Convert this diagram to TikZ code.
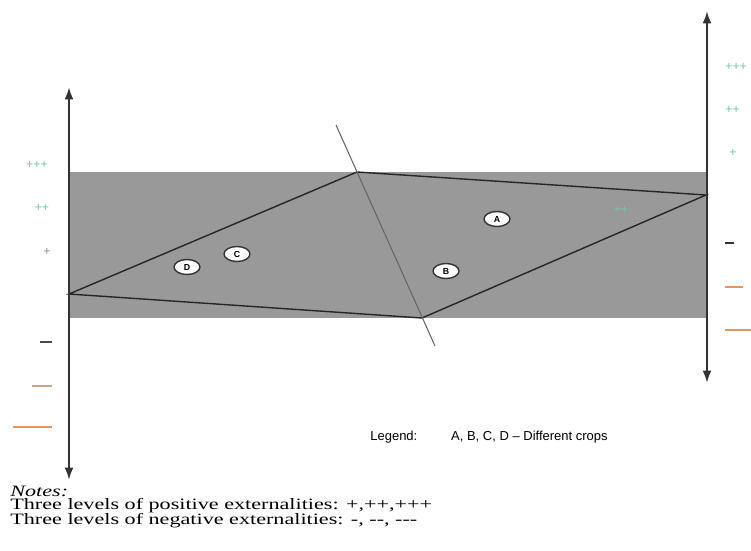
\documentclass[tikz,border=0pt]{standalone}
\usepackage{fontspec}
\setmainfont{Liberation Serif}
\setsansfont{Liberation Sans}
\usetikzlibrary{arrows.meta,shapes.geometric}
\definecolor{plusgreen}{RGB}{110,200,175}
\definecolor{minusorange}{RGB}{225,150,100}
\definecolor{fieldgray}{RGB}{153,153,153}
\newcommand{\widetext}[1]{\scalebox{1.4}[1]{#1}}

\begin{document}
\begin{tikzpicture}[x=0.02cm, y=-0.02cm,
  axis/.style={draw=black!80, line width=1.2pt, {Latex[length=7pt,width=5pt]}-{Latex[length=7pt,width=5pt]}},
  fieldline/.style={draw=black!85, line width=0.8pt},
  crop/.style={ellipse, draw=black!80, line width=0.8pt, fill=white, inner sep=0pt, minimum width=0.52cm, minimum height=0.3cm, font=\sffamily\tiny\bfseries},
  plus/.style={font=\sffamily\scriptsize, text=plusgreen, inner sep=0pt},
  minusline/.style={line width=0.7pt},
  legendtxt/.style={font=\sffamily\fontsize{7.4}{8}\selectfont, anchor=west, inner sep=0pt},
  note/.style={font=\fontsize{9}{10}\selectfont, anchor=west, inner sep=0pt}
]
\useasboundingbox (0,0) rectangle (751,551);
% Shaded band
\fill[fieldgray] (70,172) rectangle (706,318);
% Vertices of the field
\coordinate (west) at (69,294);
\coordinate (north) at (357,172);
\coordinate (east) at (706,195);
\coordinate (south) at (422,318);
\coordinate (cuttop) at (336,125);
\coordinate (cutbot) at (435,346);
\draw[fieldline] (west) -- (north) -- (east) -- (south) -- cycle;
\draw[fieldline, draw=black!60, line width=0.6pt] (cuttop) -- (cutbot);
% Axes
\coordinate (ltop) at (69,87);
\coordinate (lbot) at (69,480);
\coordinate (rtop) at (707,11);
\coordinate (rbot) at (707,383);
\draw[axis] (ltop) -- (lbot);
\draw[axis] (rtop) -- (rbot);
% Crops
\node[crop] (cropA) at (497,219) {A};
\node[crop] (cropB) at (446,271) {B};
\node[crop] (cropC) at (237,254) {C};
\node[crop] (cropD) at (187,267) {D};
\node[plus] (midpp) at (621,210) {++};
% Left levels
\node[plus] (lppp) at (37,165) {+++};
\node[plus] (lpp) at (42,208) {++};
\node[plus, text=black!45] (lp) at (47,252) {+};
\coordinate (lm1) at (40,342); \coordinate (lm2) at (52,342);
\coordinate (lmm1) at (32,386); \coordinate (lmm2) at (52,386);
\coordinate (lmmm1) at (13,427); \coordinate (lmmm2) at (52,427);
\draw[minusline, black!70] (lm1) -- (lm2);
\draw[minusline, minusorange!70!black!60] (lmm1) -- (lmm2);
\draw[minusline, minusorange] (lmmm1) -- (lmmm2);
% Right levels
\node[plus, anchor=west] (rppp) at (725,67) {+++};
\node[plus, anchor=west] (rpp) at (725,110) {++};
\node[plus, anchor=west] (rp) at (729,153) {+};
\coordinate (rm1) at (725,243); \coordinate (rm2) at (734,243);
\coordinate (rmm1) at (725,287); \coordinate (rmm2) at (743,287);
\coordinate (rmmm1) at (725,330); \coordinate (rmmm2) at (751,330);
\draw[minusline, black!80] (rm1) -- (rm2);
\draw[minusline, minusorange] (rmm1) -- (rmm2);
\draw[minusline, minusorange] (rmmm1) -- (rmmm2);
% Legend and notes
\node[legendtxt] (legend) at (370,437) {Legend:\hspace{2.6em}A, B, C, D -- Different crops};
\node[note, font=\fontsize{9}{10}\selectfont\itshape] (notes) at (10,491) {\widetext{Notes:}};
\node[note] (notepos) at (10,506) {\widetext{Three levels of positive externalities: +,++,+++}};
\node[note] (noteneg) at (10,521) {\widetext{Three levels of negative externalities: -, -{}-, -{}-{}-}};
\end{tikzpicture}
\end{document}
